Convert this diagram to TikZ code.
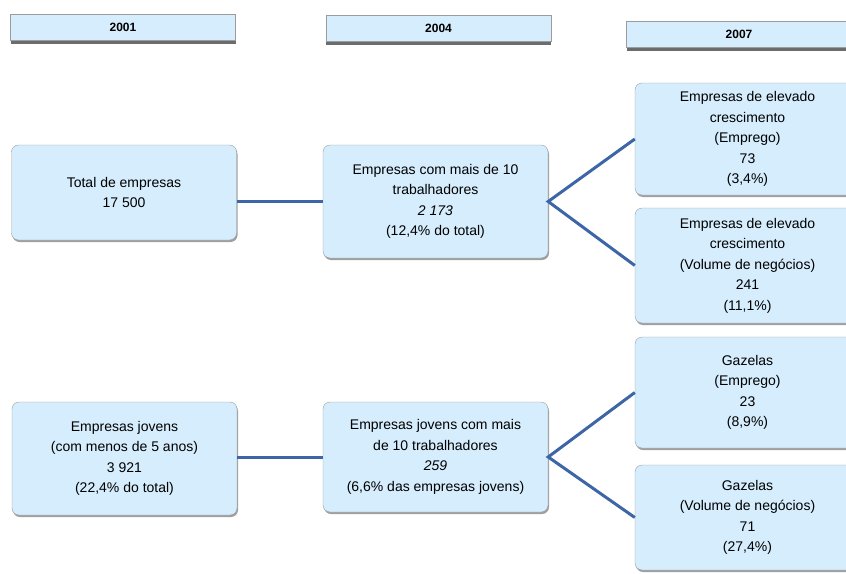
\documentclass[tikz,border=0pt]{standalone}
\usepackage{fontspec}
\setmainfont{Liberation Sans}
\usetikzlibrary{shadows}

\definecolor{kastenfill}{HTML}{D5EDFC}
\definecolor{kastenrand}{HTML}{9C9C9C}
\definecolor{verbblau}{HTML}{3D66A6}

\tikzset{
	jahr/.style={draw=kastenrand, fill=kastenfill, minimum width=225pt, minimum height=26pt,
		inner sep=0pt, font=\bfseries\fontsize{12}{14}\selectfont,
		drop shadow={shadow xshift=0pt, shadow yshift=-4pt, fill=gray!85!black, opacity=1}},
	kasten/.style={draw=kastenrand, fill=kastenfill, rounded corners=7pt, align=center,
		inner sep=0pt, minimum width=225pt, font=\fontsize{14}{20.5}\selectfont,
		drop shadow={shadow xshift=1pt, shadow yshift=-2pt, fill=gray!75, opacity=1}},
	verb/.style={verbblau, line width=3pt},
}

\begin{document}
\begin{tikzpicture}[x=1pt, y=-1pt]
	\useasboundingbox (0,0) rectangle (846,573);
	\clip (0,0) rectangle (846,573);
	
	\node [jahr] (j2001) at (123, 27) {2001};				% Jahre
	\node [jahr] (j2004) at (438.5, 28) {2004};
	\node [jahr] (j2007) at (739, 34) {2007};
	
	% oben
	\node [kasten, minimum height=95pt] (total) at (124, 192.5)
		{Total de empresas\\17 500};
	\node [kasten, minimum height=113pt] (mais10) at (435.5, 201.5)
		{Empresas com mais de 10\\trabalhadores\\\textit{2 173}\\(12,4\% do total)};
	\node [kasten, minimum height=112pt] (elevE) at (747.5, 139)
		{Empresas de elevado\\crescimento\\(Emprego)\\73\\(3,4\%)};
	\node [kasten, minimum height=115pt] (elevV) at (747.5, 265.5)
		{Empresas de elevado\\crescimento\\(Volume de negócios)\\241\\(11,1\%)};
	
	% unten
	\node [kasten, minimum height=113pt] (jovens) at (124.5, 458.5)
		{Empresas jovens\\(com menos de 5 anos)\\3 921\\(22,4\% do total)};
	\node [kasten, minimum height=110pt] (jovens10) at (435.5, 457)
		{Empresas jovens com mais\\de 10 trabalhadores\\\textit{259}\\(6,6\% das empresas jovens)};
	\node [kasten, minimum height=111pt] (gazE) at (747.5, 392.5)
		{Gazelas\\(Emprego)\\23\\(8,9\%)};
	\node [kasten, minimum height=105pt] (gazV) at (747.5, 517.5)
		{Gazelas\\(Volume de negócios)\\71\\(27,4\%)};
	
	\draw [verb] (total.east |- mais10.west) -- (mais10.west);		% Linie
	\draw [verb] (elevE.west) -- (mais10.east) -- (elevV.west);		% Gabel
	\draw [verb] (jovens.east |- jovens10.west) -- (jovens10.west);
	\draw [verb] (gazE.west) -- (jovens10.east) -- (gazV.west);

\end{tikzpicture}
\end{document}
